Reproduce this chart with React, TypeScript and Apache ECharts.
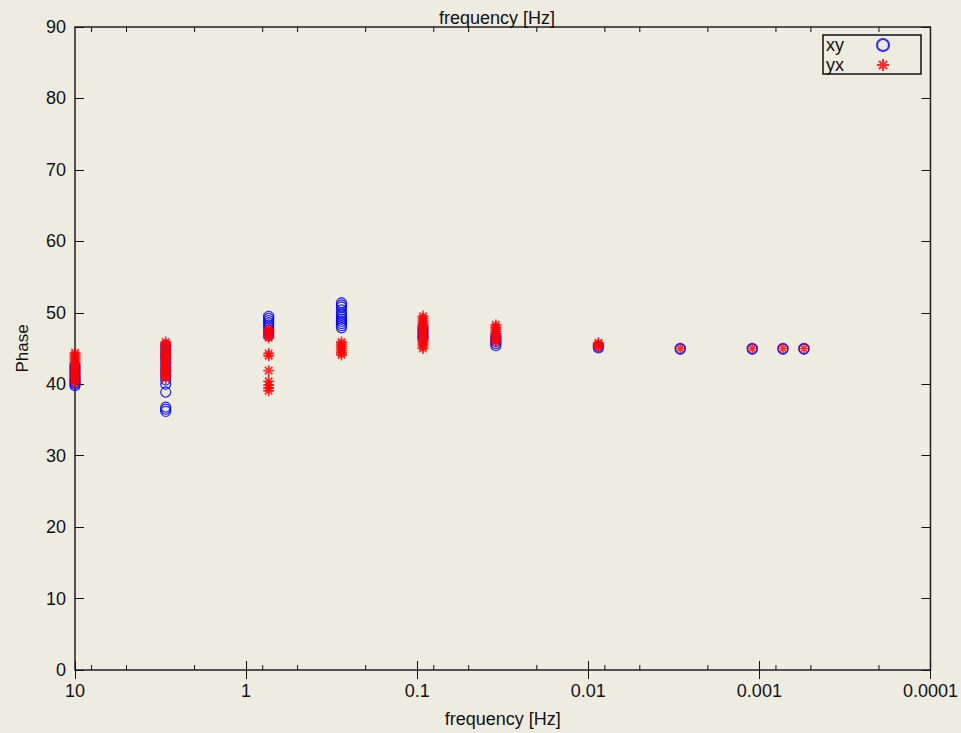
import React, { useEffect, useRef } from 'react';
import * as echarts from 'echarts';

const frequencies = [10, 2.95, 0.738, 0.277, 0.0925, 0.0347, 0.00873, 0.0029, 0.0011, 0.000728, 0.000549];

const xyPhase = [
  [39.8, 40.0, 40.2, 40.4, 40.7, 41.0, 41.3, 41.6, 42.0, 42.3, 42.6],
  [36.2, 36.5, 36.8, 38.9, 40.0, 40.6, 41.2, 41.8, 42.4, 43.0, 43.6, 44.2, 44.8, 45.4],
  [46.8, 47.2, 47.6, 48.0, 48.3, 48.6, 48.9, 49.2, 49.5],
  [47.9, 48.2, 48.5, 48.8, 49.1, 49.4, 49.7, 50.0, 50.4, 50.8, 51.1, 51.4],
  [46.4, 46.8, 47.2, 47.6, 48.0],
  [45.4, 45.7, 46.0, 46.4, 46.8],
  [45.1, 45.3],
  [44.9, 45.0],
  [44.9, 45.0],
  [44.9, 45.0],
  [44.9, 45.0],
];

const yxPhase = [
  [40.2, 40.5, 40.8, 41.1, 41.4, 41.7, 42.0, 42.3, 42.6, 42.9, 43.2, 43.5, 43.8, 44.1, 44.4],
  [40.8, 41.1, 41.4, 41.7, 42.0, 42.3, 42.6, 42.9, 43.2, 43.5, 43.8, 44.1, 44.4, 44.7, 45.0, 45.3, 45.6, 45.9],
  [39.1, 39.5, 39.9, 40.4, 41.9, 44.0, 44.3, 46.5, 46.8, 47.1, 47.4, 47.7],
  [44.1, 44.4, 44.7, 45.0, 45.3, 45.6, 45.9],
  [45.0, 45.3, 45.6, 45.9, 46.2, 46.5, 46.8, 47.1, 47.4, 47.7, 48.0, 48.3, 48.6, 48.9, 49.2, 49.5],
  [45.9, 46.2, 46.5, 46.8, 47.1, 47.4, 47.7, 48.0, 48.3],
  [45.2, 45.4, 45.6, 45.8],
  [45.0],
  [45.0],
  [45.0],
  [45.0],
];

const minorTickValues = [8, 5, 2, 0.8, 0.5, 0.2, 0.08, 0.05, 0.02, 0.008, 0.005, 0.002, 0.0008, 0.0005, 0.0002];
const yTicks = { min: 0, max: 90, interval: 10 };
const xRange = { min: 0.0001, max: 10 };

const FONT = '"Liberation Sans", Arial, sans-serif';
const INK = '#111';
const STAR = 'path://M0,5L10,5M5,0L5,10M1.6,1.6L8.4,8.4M1.6,8.4L8.4,1.6';

function buildData(phases: number[][]) {
  const out: number[][] = [];
  phases.forEach((col, i) => col.forEach((v) => out.push([frequencies[i], v])));
  return out;
}

function fmtX(v: number) {
  return String(Number(v.toPrecision(1)));
}

export default function App() {
  const ref = useRef<HTMLDivElement>(null);
  useEffect(() => {
    if (!ref.current) return;
    const chart = echarts.init(ref.current, undefined, { renderer: 'svg' });
    const baseX = {
      type: 'log',
      logBase: 10,
      inverse: true,
      min: xRange.min,
      max: xRange.max,
      axisLine: { show: false },
      splitLine: { show: false },
      axisTick: { show: true, inside: true, length: 9, lineStyle: { color: INK, width: 1 } },
    };
    const baseY = {
      type: 'value',
      min: yTicks.min,
      max: yTicks.max,
      interval: yTicks.interval,
      axisLine: { show: false },
      splitLine: { show: false },
      axisTick: { show: true, inside: true, length: 9, lineStyle: { color: INK, width: 1 } },
    };
    chart.setOption({
      animation: false,
      backgroundColor: '#EEEBE1',
      textStyle: { fontFamily: FONT },
      grid: {
        left: 75, right: 28, top: 27, bottom: 63,
        show: true, borderColor: '#222', borderWidth: 1.5, backgroundColor: 'transparent',
      },
      graphic: [
        {
          type: 'text', x: 497, y: 18,
          style: { text: 'frequency [Hz]', fontSize: 18, fontFamily: FONT, fill: INK, align: 'center', verticalAlign: 'middle' },
        },
      ],
      legend: {
        data: ['xy', 'yx'],
        orient: 'vertical',
        left: 823, top: 35,
        itemGap: 2,
        itemWidth: 68, itemHeight: 12,
        symbolKeepAspect: true,
        padding: [1, 31, 0, 3],
        borderColor: INK, borderWidth: 1.5,
        textStyle: { fontSize: 18, color: INK, fontFamily: FONT },
        align: 'right',
        selectedMode: false,
      },
      xAxis: [
        {
          ...baseX,
          position: 'bottom',
          name: 'frequency [Hz]',
          nameLocation: 'middle',
          nameGap: 40,
          nameTextStyle: { fontSize: 18, color: INK, fontFamily: FONT },
          axisLabel: { show: true, fontSize: 18, color: INK, margin: 12, formatter: fmtX, showMinLabel: true, showMaxLabel: true },
        },
        {
          ...baseX,
          position: 'top',
          axisLabel: { show: false },
        },
      ],
      yAxis: [
        {
          ...baseY,
          position: 'left',
          name: 'Phase',
          nameLocation: 'middle',
          nameGap: 44,
          nameTextStyle: { fontSize: 17, color: INK, fontFamily: FONT },
          axisLabel: { show: true, fontSize: 18, color: INK, margin: 9 },
        },
        {
          ...baseY,
          position: 'right',
          axisLabel: { show: false },
        },
      ],
      series: [
        {
          type: 'custom',
          silent: true,
          xAxisIndex: 0, yAxisIndex: 0,
          data: minorTickValues.map((v) => [v, yTicks.min]),
          encode: { x: 0, y: 1 },
          renderItem: (params: any, api: any) => {
            const v = api.value(0);
            const b = api.coord([v, yTicks.min]);
            const t = api.coord([v, yTicks.max]);
            const st = { stroke: INK, lineWidth: 1 };
            return {
              type: 'group',
              children: [
                { type: 'line', shape: { x1: b[0], y1: b[1], x2: b[0], y2: b[1] - 5 }, style: st },
                { type: 'line', shape: { x1: t[0], y1: t[1], x2: t[0], y2: t[1] + 5 }, style: st },
              ],
            };
          },
        },
        {
          name: 'xy',
          type: 'scatter',
          xAxisIndex: 0, yAxisIndex: 0,
          symbol: 'circle',
          symbolSize: 10,
          itemStyle: { color: 'rgba(0,0,0,0)', borderColor: '#0000ff', borderWidth: 1.3 },
          data: buildData(xyPhase),
        },
        {
          name: 'yx',
          type: 'scatter',
          xAxisIndex: 0, yAxisIndex: 0,
          symbol: STAR,
          symbolSize: 11,
          itemStyle: { color: 'rgba(0,0,0,0)', borderColor: '#ff0000', borderWidth: 1.7 },
          data: buildData(yxPhase),
        },
      ],
    });
    return () => chart.dispose();
  }, []);
  return (
    <div
      ref={ref}
      style={{ position: 'fixed', left: 0, top: 0, width: 961, height: 733 }}
    />
  );
}
